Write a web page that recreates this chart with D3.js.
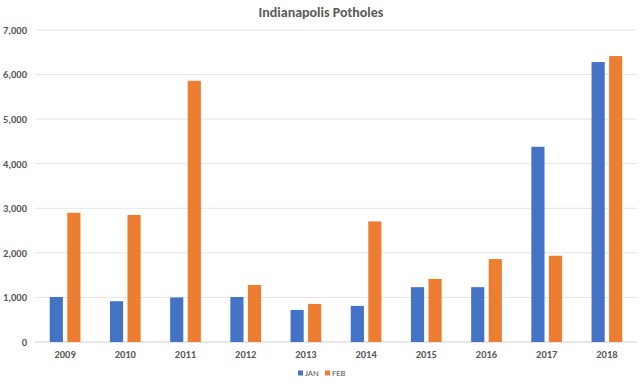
<!DOCTYPE html>
<html>
<head>
<meta charset="utf-8">
<script src="https://cdn.jsdelivr.net/npm/d3@7"></script>
<style>
  body { margin: 0; background: #fff; }
  text { font-family: Calibri, "Liberation Sans", "Open Sans", sans-serif; }
</style>
</head>
<body>
<div class="canvas"></div>
<script>
const years = ['2009', '2010', '2011', '2012', '2013', '2014', '2015', '2016', '2017', '2018'];
const series = ['JAN', 'FEB'];
const janValues = [1010, 915, 1000, 1010, 720, 810, 1230, 1230, 4380, 6280];
const febValues = [2900, 2850, 5860, 1280, 855, 2705, 1415, 1860, 1935, 6415];
const yTicks = [0, 1000, 2000, 3000, 4000, 5000, 6000, 7000];
const colors = { JAN: '#4472C4', FEB: '#ED7D31' };

const svgWidth = 640;
const svgHeight = 384;
const margin = { top: 30, right: 3, bottom: 42, left: 35 };
const graphWidth = svgWidth - margin.left - margin.right;
const graphHeight = svgHeight - margin.top - margin.bottom;

const svg = d3.select('.canvas')
    .append('svg')
        .attr('width', svgWidth)
        .attr('height', svgHeight);

svg.append('text')
    .attr('x', 321)
    .attr('y', 17)
    .attr('text-anchor', 'middle')
    .attr('font-size', 14)
    .attr('font-weight', 'bold')
    .attr('fill', '#595959')
    .text('Indianapolis Potholes');

const g = svg.append('g')
    .attr('transform', `translate(${margin.left}, ${margin.top})`);

// Scales
const x0 = d3.scaleBand().domain(years).range([0, graphWidth]).paddingInner(0.49).paddingOuter(0.245);
const x1 = d3.scaleBand().domain(series).range([0, x0.bandwidth()]).paddingInner(0.25);
const y = d3.scaleLinear().domain([0, 7000]).range([graphHeight, 0]);

// Gridlines
g.append('g')
    .selectAll('line')
    .data(yTicks)
    .join('line')
        .attr('x1', 0)
        .attr('x2', graphWidth)
        .attr('y1', d => y(d))
        .attr('y2', d => y(d))
        .attr('stroke', d => d === 0 ? '#d0d0d0' : '#e4e4e4')
        .attr('stroke-width', 1);

// Bars
const rows = years.map((yr, i) => ({ year: yr, JAN: janValues[i], FEB: febValues[i] }));

g.append('g')
    .selectAll('g')
    .data(rows)
    .join('g')
        .attr('transform', d => `translate(${x0(d.year)}, 0)`)
    .selectAll('rect')
    .data(d => series.map(s => ({ key: s, value: d[s] })))
    .join('rect')
        .attr('x', d => x1(d.key))
        .attr('width', x1.bandwidth())
        .attr('y', d => y(d.value))
        .attr('height', d => graphHeight - y(d.value))
        .attr('fill', d => colors[d.key]);

// Axes
const yAxis = d3.axisLeft(y).tickValues(yTicks).tickFormat(d3.format(',')).tickSize(0).tickPadding(8);
const yAxisGroup = g.append('g').call(yAxis);
yAxisGroup.select('.domain').remove();
yAxisGroup.selectAll('text')
    .attr('font-size', 10.5)
    .attr('font-weight', 'bold')
    .attr('fill', '#595959')
    .style('font-family', 'Calibri, "Liberation Sans", sans-serif');

const xAxis = d3.axisBottom(x0).tickSize(0).tickPadding(9);
const xAxisGroup = g.append('g')
    .attr('transform', `translate(0, ${graphHeight})`)
    .call(xAxis);
xAxisGroup.select('.domain').remove();
xAxisGroup.selectAll('text')
    .attr('font-size', 10.5)
    .attr('font-weight', 'bold')
    .attr('fill', '#595959')
    .style('font-family', 'Calibri, "Liberation Sans", sans-serif');

// Legend
const legend = svg.append('g').attr('transform', 'translate(298, 373)');
const legendItems = legend.selectAll('g')
    .data(series)
    .join('g')
        .attr('transform', (d, i) => `translate(${i * 27}, 0)`);
legendItems.append('rect')
    .attr('x', 0)
    .attr('y', -2.5)
    .attr('width', 5)
    .attr('height', 5)
    .attr('fill', d => colors[d]);
legendItems.append('text')
    .attr('x', 7)
    .attr('y', 3)
    .attr('font-size', 9)
    .attr('fill', '#595959')
    .text(d => d);
</script>
</body>
</html>
